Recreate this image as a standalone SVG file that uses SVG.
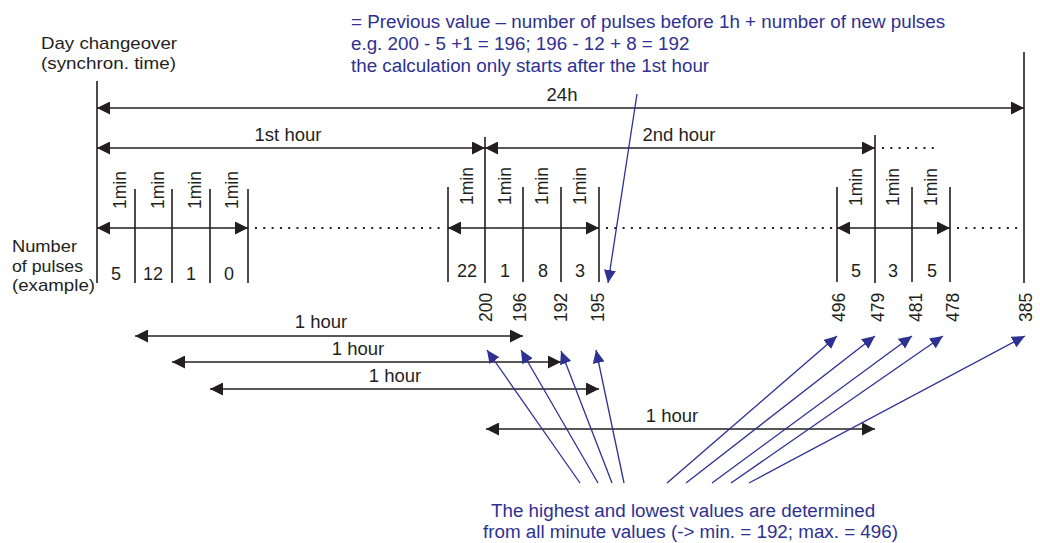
<svg xmlns="http://www.w3.org/2000/svg" width="1040" height="543" viewBox="0 0 1040 543">
<style>
text{font-family:'Liberation Sans',Arial,Helvetica,sans-serif;fill:#231f20}
.t{font-size:18.5px}
.h{font-size:17px;lengthAdjust:spacingAndGlyphs}
.tm{font-size:18.5px;text-anchor:middle}
.s{font-size:17.5px}
.c{font-size:18px;text-anchor:middle}
.b{fill:#2e3192;font-size:18.8px}
.ln{stroke:#231f20;stroke-width:1.6;fill:none}
.ar{stroke:#231f20;stroke-width:1.5;fill:none;marker-start:url(#ah);marker-end:url(#ah)}
.dot{stroke:#231f20;stroke-width:2;stroke-dasharray:2 6.3;fill:none}
.bl{stroke:#2e3192;stroke-width:1.3;fill:none;marker-end:url(#bh)}
</style>
<defs>
<marker id="ah" viewBox="0 0 13 13" refX="13" refY="6.5" markerWidth="13" markerHeight="13" markerUnits="userSpaceOnUse" orient="auto-start-reverse"><path d="M0,0 L13,6.5 L0,13 z" fill="#231f20"/></marker>
<marker id="bh" viewBox="0 0 13 12" refX="13" refY="6" markerWidth="13" markerHeight="12" markerUnits="userSpaceOnUse" orient="auto"><path d="M0,0 L13,6 L0,12 z" fill="#2e3192"/></marker>
</defs>

<g id="header-labels">
<text class="h" x="41" y="49" textLength="136" lengthAdjust="spacingAndGlyphs">Day changeover</text>
<text class="h" x="41" y="69" textLength="135" lengthAdjust="spacingAndGlyphs">(synchron. time)</text>
<text class="h" x="12" y="252" textLength="65" lengthAdjust="spacingAndGlyphs">Number</text>
<text class="h" x="12" y="271.5" textLength="71" lengthAdjust="spacingAndGlyphs">of pulses</text>
<text class="h" x="12" y="291" textLength="83" lengthAdjust="spacingAndGlyphs">(example)</text>
</g>

<g id="note-top">
<text class="b" x="351" y="28">= Previous value – number of pulses before 1h + number of new pulses</text>
<text class="b" x="351" y="50">e.g. 200 - 5 +1 = 196; 196 - 12 + 8 = 192</text>
<text class="b" x="351" y="72">the calculation only starts after the 1st hour</text>
</g>

<g id="note-bottom">
<text class="b" x="491" y="517">The highest and lowest values are determined</text>
<text class="b" x="483" y="538">from all minute values (-&gt; min. = 192; max. = 496)</text>
</g>

<g id="timeline-lines">
<path class="ln" d="M97,81V283 M1024,52V283 M485,137V283 M875,135V283"/>
<path class="ln" d="M135,189V283 M172,189V283 M210,189V283 M248,189V283"/>
<path class="ln" d="M448,187V282 M523,187V282 M561,187V282 M599,187V282"/>
<path class="ln" d="M837,187V282 M912,187V282 M950,187V282"/>
<path class="dot" d="M255,228H446 M606,228H834 M957,228H1022 M882,148H934"/>
</g>

<g id="spans">
<path class="ar" d="M97,108H1024"/>
<text class="tm" x="562" y="101">24h</text>
<path class="ar" d="M97,148H485"/>
<text class="tm" x="288" y="141">1st hour</text>
<path class="ar" d="M485,148H875"/>
<text class="tm" x="679" y="141">2nd hour</text>
</g>

<g id="minutes">
<path class="ar" d="M97,228H135 M135,228H172 M172,228H210 M210,228H248"/>
<path class="ar" d="M448,228H485 M485,228H523 M523,228H561 M561,228H599"/>
<path class="ar" d="M837,228H875 M875,228H912 M912,228H950"/>
<text class="s" transform="translate(126,209) rotate(-90)">1min</text>
<text class="s" transform="translate(164,209) rotate(-90)">1min</text>
<text class="s" transform="translate(201,209) rotate(-90)">1min</text>
<text class="s" transform="translate(238,209) rotate(-90)">1min</text>
<text class="s" transform="translate(473,205) rotate(-90)">1min</text>
<text class="s" transform="translate(511,205) rotate(-90)">1min</text>
<text class="s" transform="translate(548,205) rotate(-90)">1min</text>
<text class="s" transform="translate(586,205) rotate(-90)">1min</text>
<text class="s" transform="translate(862,206) rotate(-90)">1min</text>
<text class="s" transform="translate(899,206) rotate(-90)">1min</text>
<text class="s" transform="translate(937,206) rotate(-90)">1min</text>
</g>

<g id="pulse-counts">
<text class="c" x="116" y="280">5</text>
<text class="c" x="153" y="280">12</text>
<text class="c" x="191" y="280">1</text>
<text class="c" x="229" y="280">0</text>
<text class="c" x="467" y="277">22</text>
<text class="c" x="505" y="277">1</text>
<text class="c" x="543" y="277">8</text>
<text class="c" x="580" y="277">3</text>
<text class="c" x="856" y="277">5</text>
<text class="c" x="893" y="277">3</text>
<text class="c" x="932" y="277">5</text>
</g>

<g id="hour-values">
<text class="s" transform="translate(492,322) rotate(-90)">200</text>
<text class="s" transform="translate(526,322) rotate(-90)">196</text>
<text class="s" transform="translate(567,322) rotate(-90)">192</text>
<text class="s" transform="translate(604,322) rotate(-90)">195</text>
<text class="s" transform="translate(845,322) rotate(-90)">496</text>
<text class="s" transform="translate(884,322) rotate(-90)">479</text>
<text class="s" transform="translate(922,322) rotate(-90)">481</text>
<text class="s" transform="translate(959,322) rotate(-90)">478</text>
<text class="s" transform="translate(1032,322) rotate(-90)">385</text>
</g>

<g id="hour-windows">
<path class="ar" d="M135,336H523"/>
<text class="tm" x="321" y="328">1 hour</text>
<path class="ar" d="M172,362H561"/>
<text class="tm" x="358" y="355">1 hour</text>
<path class="ar" d="M210,389H599"/>
<text class="tm" x="395" y="382">1 hour</text>
<path class="ar" d="M486,429H875"/>
<text class="tm" x="672" y="422">1 hour</text>
</g>

<g id="connectors">
<path class="bl" d="M637,94L608,283"/>
<path class="bl" d="M580,483L487,350"/>
<path class="bl" d="M598,483L521,350"/>
<path class="bl" d="M612,483L561,351"/>
<path class="bl" d="M624,483L596,350"/>
<path class="bl" d="M667,483L837,336"/>
<path class="bl" d="M686,483L875,336"/>
<path class="bl" d="M712,483L912,336"/>
<path class="bl" d="M731,483L943,336"/>
<path class="bl" d="M749,483L1025,336"/>
</g>
</svg>
